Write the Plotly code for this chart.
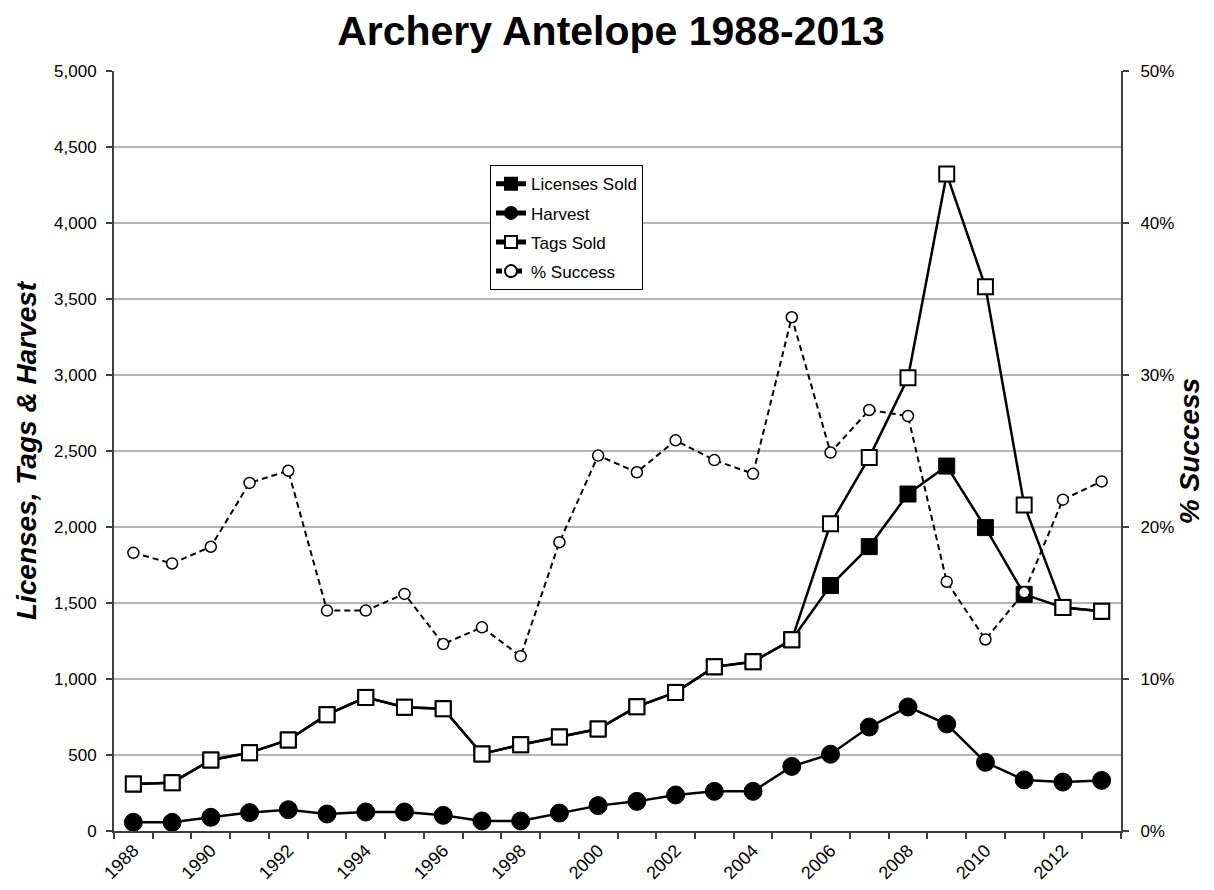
import plotly.graph_objects as go

years = list(range(1988, 2014))

licenses_sold = [309, 318, 467, 515, 599, 765, 879, 814, 805, 507, 568, 619,
                 671, 818, 912, 1080, 1114, 1258, 1615, 1871, 2217, 2401,
                 1996, 1557, 1471, 1445]
harvest = [57, 57, 90, 121, 140, 112, 125, 125, 103, 66, 66, 118,
           167, 195, 237, 261, 261, 425, 505, 684, 816, 704,
           452, 336, 322, 333]
tags_sold = [309, 318, 467, 515, 599, 765, 879, 814, 805, 507, 568, 619,
             671, 818, 912, 1080, 1114, 1258, 2021, 2458, 2982, 4322,
             3580, 2145, 1471, 1445]
pct_success = [18.3, 17.6, 18.7, 22.9, 23.7, 14.5, 14.5, 15.6, 12.3, 13.4,
               11.5, 19.0, 24.7, 23.6, 25.7, 24.4, 23.5, 33.8, 24.9, 27.7,
               27.3, 16.4, 12.6, 15.7, 21.8, 23.0]

FONT = "Liberation Sans, Arial, sans-serif"
AX = "#404040"

fig = go.Figure()
fig.add_trace(go.Scatter(
    x=years, y=licenses_sold, name="Licenses Sold", mode="lines+markers",
    legendgroup="a",
    line=dict(color="black", width=2.5),
    marker=dict(symbol="square", size=16, color="black",
                line=dict(color="black", width=1))))
fig.add_trace(go.Scatter(
    x=years, y=harvest, name="Harvest", mode="lines+markers",
    legendgroup="b",
    line=dict(color="black", width=2.5),
    marker=dict(symbol="circle", size=18, color="black",
                line=dict(color="black", width=1))))
fig.add_trace(go.Scatter(
    x=years, y=tags_sold, name="Tags Sold", mode="lines+markers",
    legendgroup="c",
    line=dict(color="black", width=2.5),
    marker=dict(symbol="square", size=15, color="white",
                line=dict(color="black", width=2))))
fig.add_trace(go.Scatter(
    x=years, y=pct_success, name="% Success", mode="lines+markers",
    legendgroup="d",
    yaxis="y2",
    line=dict(color="black", width=2, dash="6px,4px"),
    marker=dict(symbol="circle", size=11, color="white",
                line=dict(color="black", width=1.5))))

# page body adds an 8px offset, so the figure is sized/positioned accordingly
fig.update_layout(
    width=1206, height=882,
    margin=dict(l=106, r=93, t=63, b=59, autoexpand=False),
    paper_bgcolor="white", plot_bgcolor="white",
    font=dict(family=FONT, size=16, color="black"),
    title=dict(text="<b>Archery Antelope 1988-2013</b>",
               font=dict(family=FONT, size=41, color="black"),
               x=0.5, xanchor="center", y=1 - 23 / 882, yanchor="middle"),
    showlegend=True,
    legend=dict(x=0.3734, y=0.876, xanchor="left", yanchor="top",
                bgcolor="white", bordercolor="black", borderwidth=1,
                font=dict(family=FONT, size=17, color="black"),
                itemsizing="constant",
                traceorder="grouped", tracegroupgap=4),
    xaxis=dict(
        range=[1987.5, 2013.5], automargin=False,
        tickmode="linear", tick0=1988, dtick=2, ticks="",
        tickangle=-45,
        tickfont=dict(family=FONT, size=18, color="black"),
        showgrid=False, zeroline=False,
        showline=True, linecolor=AX, linewidth=2,
        minor=dict(tick0=1987.5, dtick=1, ticks="outside", ticklen=6,
                   tickcolor=AX, tickwidth=1.5, showgrid=False),
    ),
    yaxis=dict(
        range=[0, 5000], automargin=False,
        tickmode="linear", tick0=0, dtick=500,
        tickformat=",d",
        ticks="outside", ticklen=6, tickcolor=AX, tickwidth=1.5,
        ticklabelstandoff=6,
        tickfont=dict(family=FONT, size=17, color="black"),
        showgrid=True, gridcolor="#b4b4b4", gridwidth=1.5,
        zeroline=False,
        showline=True, linecolor=AX, linewidth=2,
        title=dict(text="<b><i>Licenses, Tags &amp; Harvest</i></b>",
                   font=dict(family=FONT, size=28, color="black"),
                   standoff=9),
    ),
    yaxis2=dict(
        range=[0, 50], automargin=False,
        tickmode="linear", tick0=0, dtick=10,
        ticksuffix="%", overlaying="y", side="right",
        ticks="outside", ticklen=6, tickcolor=AX, tickwidth=1.5,
        ticklabelstandoff=8,
        tickfont=dict(family=FONT, size=17, color="black"),
        showgrid=False, zeroline=False,
        showline=True, linecolor=AX, linewidth=2,
        title=dict(text="<b><i>% Success</i></b>",
                   font=dict(family=FONT, size=28, color="black"),
                   standoff=6),
    ),
)

fig.write_html("out.html")
